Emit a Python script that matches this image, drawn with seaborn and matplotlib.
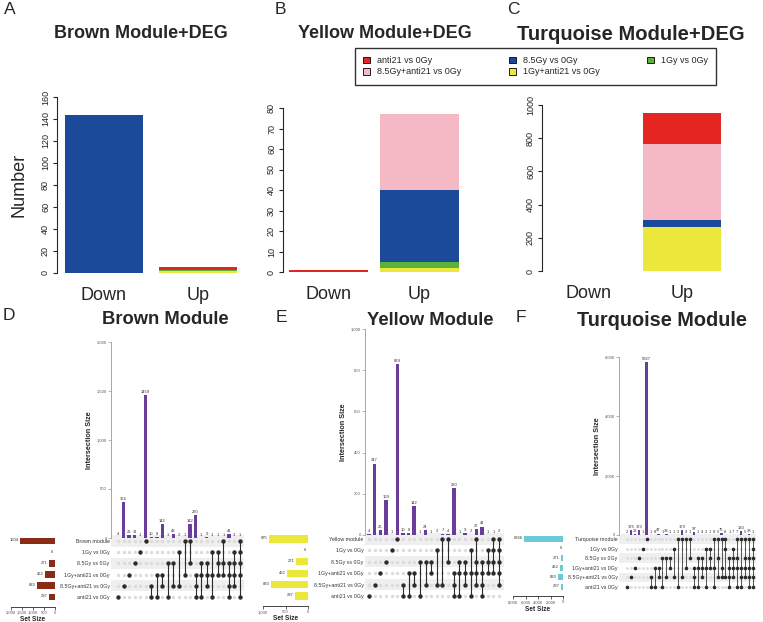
import numpy as np
import pandas as pd
import matplotlib
matplotlib.use("Agg")
import matplotlib.pyplot as plt
import seaborn as sns
from matplotlib.patches import Patch
from matplotlib.ticker import FuncFormatter

# ---------------- top row data (stacked bars, bottom -> top) ----------------
bar_categories = ["Down", "Up"]
deg_sets = ["1Gy+anti21 vs 0Gy", "1Gy vs 0Gy", "8.5Gy vs 0Gy",
            "8.5Gy+anti21 vs 0Gy", "anti21 vs 0Gy"]
deg_colors = ["#ece73b", "#5cb234", "#1c4a9b", "#f4b9c5", "#e52521"]

brown_down = [0, 0, 144, 0, 0]
brown_up = [2, 1, 0, 0, 2]
yellow_down = [0, 0, 0, 0, 1]
yellow_up = [2, 3, 35, 37, 0]
turquoise_down = [0, 0, 0, 0, 0]
turquoise_up = [265, 0, 44, 454, 191]

# ---------------- bottom row data (UpSet) ----------------
deg_names = ["1Gy vs 0Gy", "8.5Gy vs 0Gy", "1Gy+anti21 vs 0Gy",
             "8.5Gy+anti21 vs 0Gy", "anti21 vs 0Gy"]
brown_names = ["Brown module"] + deg_names
yellow_names = ["Yellow module"] + deg_names
turquoise_names = ["Turquoise module"] + deg_names

brown_set_sizes = [1604, 6, 271, 462, 833, 287]
yellow_set_sizes = [875, 6, 271, 462, 833, 287]
turquoise_set_sizes = [6266, 6, 271, 462, 833, 287]

# row indices: 0 module, 1 1Gy, 2 8.5Gy, 3 1Gy+anti21, 4 8.5Gy+anti21, 5 anti21
brown_combos = [[5], [4], [3], [2], [1], [0], [4, 5], [3, 5], [3, 4], [2, 5],
                [2, 4], [1, 4], [0, 3], [0, 2], [3, 4, 5], [2, 3, 5], [2, 3, 4],
                [1, 3, 5], [1, 2, 3], [0, 2, 3], [2, 3, 4, 5], [1, 2, 3, 4],
                [0, 1, 2, 3, 5]]
brown_counts = [4, 364, 26, 31, 1, 1459, 10, 8, 142, 1, 43, 2, 1, 142, 230,
                1, 9, 1, 1, 1, 41, 3, 1]

yellow_combos = [[5], [4], [3], [2], [1], [0], [4, 5], [3, 5], [3, 4], [2, 5],
                 [2, 4], [2, 3], [1, 4], [0, 4], [0, 2], [3, 4, 5], [2, 3, 5],
                 [2, 3, 4], [1, 3, 5], [0, 2, 3, 4], [2, 3, 4, 5], [1, 2, 3],
                 [0, 1, 2, 3], [0, 1, 2, 3, 4]]
yellow_counts = [4, 347, 26, 169, 1, 829, 10, 8, 142, 1, 24, 1, 2, 7, 4, 230,
                 1, 9, 2, 27, 41, 1, 1, 2]

turquoise_combos = [[5], [4], [3], [2], [1], [0], [4, 5], [3, 5], [3, 4],
                    [2, 5], [2, 4], [2, 3], [1, 4], [0, 5], [0, 4], [0, 3],
                    [0, 2], [3, 4, 5], [2, 3, 5], [2, 3, 4], [1, 3, 5],
                    [1, 2, 3], [0, 3, 5], [0, 2, 4], [0, 3, 4], [0, 1, 4],
                    [2, 3, 4, 5], [1, 2, 3, 4], [0, 2, 3, 5], [0, 3, 4, 5],
                    [0, 2, 3, 4], [0, 2, 3, 4, 5], [0, 1, 2, 3, 4, 5]]
turquoise_counts = [2, 176, 21, 173, 1, 5827, 1, 8, 47, 1, 38, 1, 1, 2, 179,
                    4, 1, 97, 1, 4, 2, 1, 8, 5, 75, 8, 1, 7, 7, 133, 5, 38, 1]

purple = "#6a3d9a"
W, H = 763, 622

sns.set_style("ticks")
plt.rcParams["font.family"] = ["Liberation Sans", "DejaVu Sans"]


def px_rect(x0, y0, x1, y1):
    return [x0 / W, 1 - y1 / H, (x1 - x0) / W, (y1 - y0) / H]


def fig_text(fig, x, y, s, **kw):
    fig.text(x / W, 1 - y / H, s, ha="center", va="center", **kw)


def stacked_panel(fig, rect, down, up, ymax, ystep, width):
    ax = fig.add_axes(rect)
    down_cum = np.cumsum(down)
    up_cum = np.cumsum(up)
    # draw from the top layer down so lower segments cover the upper ones
    for i in range(len(deg_sets) - 1, -1, -1):
        sns.barplot(x=bar_categories, y=[down_cum[i], up_cum[i]],
                    color=deg_colors[i], width=width, saturation=1,
                    linewidth=0, ax=ax)
    ax.set_xlim(-0.5, 1.5)
    ax.set_ylim(0, ymax)
    ax.set_yticks(np.arange(0, ymax + 1, ystep))
    sns.despine(ax=ax, bottom=True)
    ax.spines["left"].set_bounds(0, ymax)
    ax.spines["left"].set_linewidth(0.8)
    ax.tick_params(axis="y", labelrotation=90, length=3, width=0.8, pad=2,
                   labelsize=6.5, labelcolor="#222222")
    for lab in ax.get_yticklabels():
        lab.set_va("center")
    ax.tick_params(axis="x", length=0, pad=10, labelsize=13)
    ax.set_xlabel("")
    ax.set_ylabel("")
    return ax


def upset_panel(fig, names, set_sizes, set_color, combos, counts,
                spine_x, c0, c1, zero_y, top_y, ymax, ystep,
                row0_y, row1_y, set_x0, set_x1, set_max, set_step, dot=1.0):
    n = len(counts)
    nr = len(names)
    step = (c1 - c0) / (n - 1)
    right_x = c1 + 0.8 * step
    xlo = -(c0 - spine_x) / step
    xhi = n - 1 + 0.8
    rs = (row1_y - row0_y) / (nr - 1)
    mat_top = row0_y - 0.5 * rs
    mat_bot = row1_y + 0.5 * rs
    comma = FuncFormatter(lambda v, p: f"{int(v):,}")

    # matrix
    ax_mat = fig.add_axes(px_rect(spine_x, mat_top, right_x, mat_bot))
    ax_mat.patch.set_visible(False)
    for r in range(0, nr, 2):
        ax_mat.axhspan(r - 0.5, r + 0.5, color="#efefef", lw=0, zorder=0)
    grid = pd.DataFrame([(c, r) for c in range(n) for r in range(nr)],
                        columns=["col", "row"])
    sns.scatterplot(data=grid, x="col", y="row", color="#dcdcdc",
                    s=6 * dot, linewidth=0, ax=ax_mat, legend=False, zorder=2)
    members = pd.DataFrame([(c, r) for c, combo in enumerate(combos) for r in combo],
                           columns=["col", "row"])
    span = members.groupby("col")["row"].agg(["min", "max"])
    ax_mat.vlines(span.index, span["min"], span["max"], color="#2b2b2b",
                  lw=0.8 * dot, zorder=3)
    sns.scatterplot(data=members, x="col", y="row", color="#2b2b2b",
                    s=10 * dot, linewidth=0, ax=ax_mat, legend=False, zorder=4)
    ax_mat.set_xlim(xlo, xhi)
    ax_mat.set_ylim(nr - 0.5, -0.5)
    ax_mat.set_yticks(range(nr))
    ax_mat.set_yticklabels(names)
    ax_mat.tick_params(axis="y", length=0, pad=1, labelsize=3.8,
                       labelcolor="#333333")
    ax_mat.set_xticks([])
    ax_mat.set_xlabel("")
    ax_mat.set_ylabel("")
    sns.despine(ax=ax_mat, left=True, bottom=True)

    # intersection size bars
    ax_bar = fig.add_axes(px_rect(spine_x, top_y, right_x, zero_y))
    ax_bar.patch.set_visible(False)
    ax_bar.set_zorder(3)
    sns.barplot(x=np.arange(n), y=counts, native_scale=True, color=purple,
                width=0.62, saturation=1, linewidth=0, ax=ax_bar)
    ax_bar.bar_label(ax_bar.containers[0], labels=[str(v) for v in counts],
                     fontsize=3, padding=0.8, color="#333333")
    ax_bar.set_xlim(xlo, xhi)
    ax_bar.set_ylim(0, ymax)
    ax_bar.set_yticks(np.arange(0, ymax + 1, ystep))
    ax_bar.yaxis.set_major_formatter(comma)
    sns.despine(ax=ax_bar, bottom=True)
    ax_bar.spines["left"].set_color("#999999")
    ax_bar.spines["left"].set_linewidth(0.6)
    ax_bar.set_xticks([])
    ax_bar.tick_params(axis="y", length=2, width=0.5, color="#999999",
                       labelsize=3, labelcolor="#555555", pad=1)
    ax_bar.set_xlabel("")
    ax_bar.set_ylabel("Intersection Size", fontsize=5.2, fontweight="bold",
                      labelpad=3)

    # set size bars
    ax_set = fig.add_axes(px_rect(set_x0, mat_top, set_x1, mat_bot))
    ax_set.patch.set_visible(False)
    sns.barplot(x=set_sizes, y=np.arange(nr), orient="h", native_scale=True,
                color=set_color, width=0.62, saturation=1, linewidth=0,
                ax=ax_set)
    for r, v in enumerate(set_sizes):
        ax_set.annotate(str(v), (v, r), xytext=(-1, 0.5),
                        textcoords="offset points", ha="right", va="center",
                        fontsize=3, color="#333333")
    ax_set.set_xlim(set_max, 0)
    ax_set.set_ylim(nr - 0.5, -0.5)
    ax_set.set_xticks(np.arange(0, set_max + 1, set_step))
    ax_set.xaxis.set_major_formatter(comma)
    ax_set.set_yticks([])
    sns.despine(ax=ax_set, left=True)
    ax_set.spines["bottom"].set_position(("outward", 3))
    ax_set.spines["bottom"].set_linewidth(0.6)
    ax_set.tick_params(axis="x", length=2, width=0.5, labelsize=3, pad=1,
                       labelcolor="#555555")
    ax_set.set_ylabel("")
    ax_set.set_xlabel("Set Size", fontsize=4.7, fontweight="bold", labelpad=1)


fig = plt.figure(figsize=(W / 100, H / 100), dpi=100)

# ---- top row ----
ax_a = stacked_panel(fig, px_rect(57, 97, 245, 273), brown_down, brown_up, 160, 20, 0.84)
ax_b = stacked_panel(fig, px_rect(283, 108, 465, 272), yellow_down, yellow_up, 80, 10, 0.87)
ax_c = stacked_panel(fig, px_rect(542, 105, 729, 271), turquoise_down, turquoise_up, 1000, 200, 0.83)
ax_a.set_ylabel("Number", fontsize=13, labelpad=10)

fig_text(fig, 141, 34, "Brown Module+DEG", fontsize=13, fontweight="bold")
fig_text(fig, 385, 34, "Yellow Module+DEG", fontsize=13, fontweight="bold")
fig_text(fig, 631, 34, "Turquoise Module+DEG", fontsize=14.5, fontweight="bold")

handles = [Patch(facecolor=deg_colors[i], edgecolor="black", linewidth=0.6)
           for i in [4, 3, 2, 0, 1]]
labels = [deg_sets[i] for i in [4, 3, 2, 0, 1]]
leg = fig.legend(handles, labels, loc="upper left", mode="expand",
                 bbox_to_anchor=(355 / W, 1 - 86 / H, 361 / W, 38 / H),
                 borderaxespad=0, ncol=3, fontsize=6.5,
                 frameon=True, fancybox=False, edgecolor="black",
                 handlelength=0.75, handleheight=0.75, handletextpad=0.8,
                 labelspacing=0.25, borderpad=0.9)
leg.get_frame().set_linewidth(1.0)

# ---- bottom row ----
upset_panel(fig, brown_names, brown_set_sizes, "#8b2b17", brown_combos,
            brown_counts, 111, 118, 240, 538, 342, 2000, 500,
            541, 597, 11, 55, 2000, 500)
upset_panel(fig, yellow_names, yellow_set_sizes, "#ece73b", yellow_combos,
            yellow_counts, 365, 369, 499, 535, 329, 1000, 200,
            539, 596, 263, 308, 1000, 500)
upset_panel(fig, turquoise_names, turquoise_set_sizes, "#6ccad6",
            turquoise_combos, turquoise_counts, 619, 627, 753, 535, 357,
            6000, 2000, 539, 587, 513, 563, 8000, 2000, dot=0.7)

fig_text(fig, 165, 320, "Brown Module", fontsize=13.2, fontweight="bold")
fig_text(fig, 430, 321, "Yellow Module", fontsize=13.2, fontweight="bold")
fig_text(fig, 662, 321, "Turquoise Module", fontsize=14.3, fontweight="bold")

for letter, x, y in [("A", 10, 10), ("B", 280, 10), ("C", 513, 10),
                     ("D", 9, 316), ("E", 281, 317), ("F", 521, 317)]:
    fig_text(fig, x, y, letter, fontsize=12.5)

fig.savefig("out.png", dpi=100)
